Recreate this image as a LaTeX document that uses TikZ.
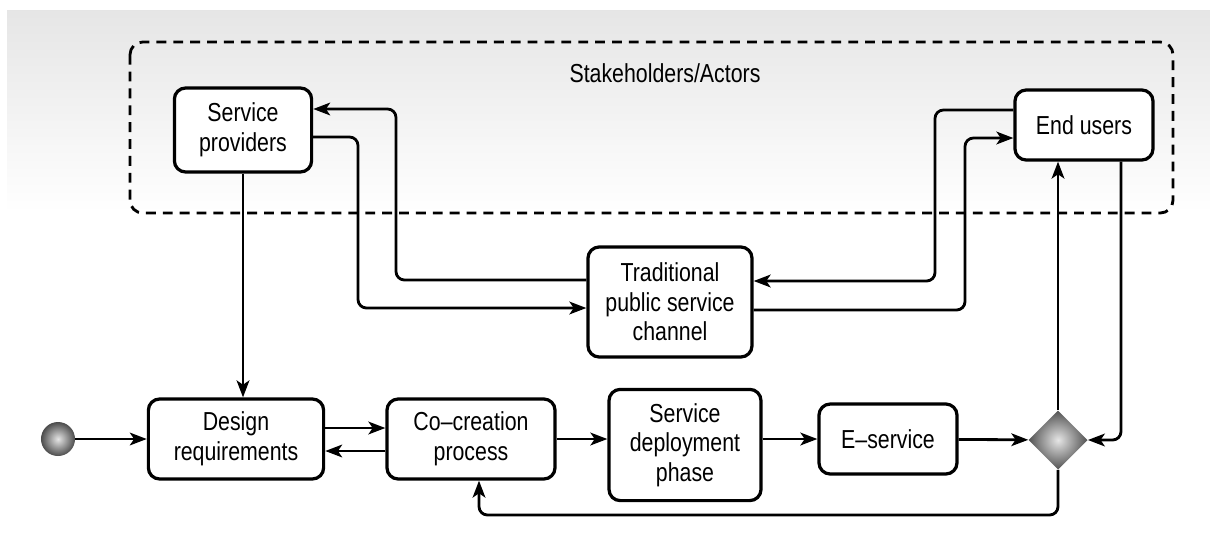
\documentclass[tikz,border=0pt]{standalone}
\usepackage{fontspec}
\setmainfont{Liberation Sans}[FakeStretch=0.82]
\usetikzlibrary{arrows.meta,shapes.geometric}

\tikzset{
	box/.style={draw, rectangle, rounded corners=8pt, line width=2.3pt, fill=white, align=center, inner sep=2pt},
	arr/.style={-{Stealth[length=12pt, width=9pt, inset=3pt]}, line width=2pt, rounded corners=6pt},
	ln/.style={line width=2pt, rounded corners=6pt}
}

\begin{document}
\begin{tikzpicture}[x=0.025cm, y=-0.025cm, font=\fontsize{18.5}{21}\selectfont]
		\useasboundingbox (0,0) rectangle (1210,542);
		\fill[top color=gray!20, bottom color=white] (7,10) rectangle (1210,212);
		\draw[dashed, dash pattern=on 7pt off 5pt, line width=2pt, rounded corners=9pt] (130,42) rectangle (1173,213);
		\node (actors) at (665,73) {Stakeholders/Actors};

		\node (sp) [box, minimum width=3.43cm, minimum height=2.1cm] at (243,130) {Service\\providers};
		\node (eu) [box, minimum width=3.45cm, minimum height=1.75cm] at (1084,125) {End users};
		\node (tr) [box, minimum width=4.1cm, minimum height=2.75cm] at (670,302) {Traditional\\public service\\channel};

		\node (start) [circle, inner sep=0pt, minimum size=0.85cm, inner color=gray!20, outer color=black!70] at (58,439) {};
		\node (dr) [box, minimum width=4.38cm, minimum height=2cm] at (236,439) {Design\\requirements};
		\node (cc) [box, minimum width=4.2cm, minimum height=2cm] at (471,439) {Co--creation\\process};
		\node (sd) [box, minimum width=3.8cm, minimum height=2.78cm] at (685,445) {Service\\deployment\\phase};
		\node (es) [box, minimum width=3.45cm, minimum height=1.75cm] at (888,439) {E--service};
		\node (dm) [diamond, inner sep=0pt, minimum width=1.48cm, minimum height=1.48cm, inner color=gray!20, outer color=black!68] at (1058,440) {};
		\coordinate (loop) at (479,515);

		\draw[arr] (start) -- (dr);
		\draw[arr] (dr.east |- 0,428) -- (cc.west |- 0,428);
		\draw[arr] (cc.west |- 0,451) -- (dr.east |- 0,451);
		\draw[arr] (cc.east) -- (cc.east -| sd.west);
		\draw[arr] (sd.east |- es) -- (es.west);
		\draw[arr] (es) -- (dm);
		\draw[arr] (dm.north) -- (dm.north |- eu.south);
		\draw[arr] (eu.south -| 1121,0) |- (dm.east);
		\draw[arr] (dm.south) |- (loop) -- (loop |- cc.south);
		\draw[arr] (sp.south) -- (sp.south |- dr.north);

		\draw[arr] (tr.west |- 0,280) -- (396,280) -- (396,109) -- (sp.east |- 0,109);
		\draw[arr] (sp.east |- 0,137) -- (358,137) -- (358,308) -- (tr.west |- 0,308);
		\draw[arr] (eu.west |- 0,110) -- (935,110) -- (935,281) -- (tr.east |- 0,281);
		\draw[arr] (tr.east |- 0,310) -- (965,310) -- (965,138) -- (eu.west |- 0,138);
	\end{tikzpicture}
\end{document}
